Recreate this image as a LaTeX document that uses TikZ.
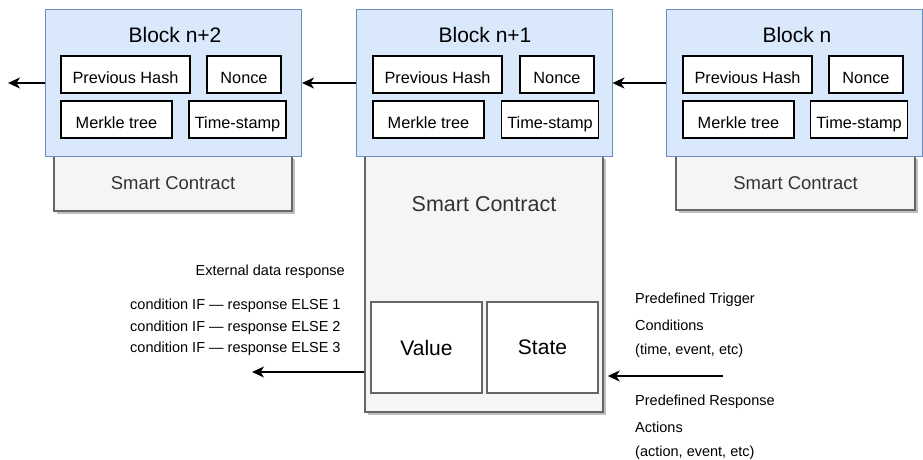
\documentclass[tikz,border=0pt]{standalone}
\usepackage{fontspec}
\setmainfont{Liberation Sans}
\usetikzlibrary{arrows.meta,shadows}
\definecolor{blockfill}{HTML}{DAE8FC}
\definecolor{blockline}{HTML}{6C8EBF}
\definecolor{contractfill}{HTML}{F5F5F5}
\definecolor{contractline}{HTML}{666666}
\definecolor{contracttext}{HTML}{333333}
\tikzstyle{block} = [draw=blockline, fill=blockfill, line width=1pt, minimum width=256pt, minimum height=146pt, inner sep=0pt]
\tikzstyle{title} = [inner sep=0pt, font={\fontsize{21}{25}\selectfont}]
\tikzstyle{field} = [draw=black, fill=white, line width=1.5pt, minimum height=37pt, inner sep=0pt, text height=18pt, text depth=0pt, font={\fontsize{16.3}{19}\selectfont}]
\tikzstyle{contract} = [draw=contractline, fill=contractfill, line width=1.5pt, inner sep=0pt, text=contracttext, font={\fontsize{18.5}{22}\selectfont}, drop shadow={shadow xshift=3pt, shadow yshift=-3pt, fill=black, opacity=0.25}]
\tikzstyle{slot} = [draw=contractline, fill=white, line width=1.2pt, minimum width=111pt, minimum height=91pt, inner sep=0pt, font={\fontsize{21}{25}\selectfont}]
\tikzstyle{note} = [inner sep=0pt, font={\fontsize{14.5}{17}\selectfont}]
\tikzstyle{link} = [line width=1.5pt, -{Stealth[length=12pt,width=11pt,inset=3.5pt]}]

\begin{document}
\begin{tikzpicture}[x=1pt,y=-1pt]
    \useasboundingbox (0,0) rectangle (923,460);
    % smart contracts (behind the blocks)
    \node[contract,minimum width=238pt,minimum height=55pt](c2) at (173,183.5){Smart Contract};
    \node[contract,minimum width=238pt,minimum height=256pt](c1) at (484,284){};
    \node[contract,minimum width=239pt,minimum height=54pt](c0) at (795.5,183){Smart Contract};
    \node[note,text=contracttext,font={\fontsize{21.5}{25}\selectfont}](c1label) at (484,204){Smart Contract};
    \node[slot](value) at (426.5,347.5){Value};
    \node[slot](state) at (542.5,347.5){State};
    % block n+2
    \node[block](b2) at (173.5,83){};
    \node[title](b2title) at (175,35){Block n+2};
    \node[field,minimum width=129pt](b2hash) at (125.5,74.5){Previous Hash};
    \node[field,minimum width=74pt](b2nonce) at (244,74.5){Nonce};
    \node[field,minimum width=111pt](b2tree) at (116.5,119.5){Merkle tree};
    \node[field,minimum width=97pt](b2time) at (237.5,119.5){Time-stamp};
    % block n+1
    \node[block](b1) at (484,83){};
    \node[title](b1title) at (485,35){Block n+1};
    \node[field,minimum width=129pt](b1hash) at (437.5,74.5){Previous Hash};
    \node[field,minimum width=74pt](b1nonce) at (557,74.5){Nonce};
    \node[field,minimum width=111pt](b1tree) at (428.5,119.5){Merkle tree};
    \node[field,minimum width=97pt](b1time) at (550,119.5){Time-stamp};
    % block n
    \node[block](b0) at (794.5,83){};
    \node[title](b0title) at (797,35){Block n};
    \node[field,minimum width=129pt](b0hash) at (747.5,74.5){Previous Hash};
    \node[field,minimum width=74pt](b0nonce) at (866,74.5){Nonce};
    \node[field,minimum width=111pt](b0tree) at (738.5,119.5){Merkle tree};
    \node[field,minimum width=97pt](b0time) at (859,119.5){Time-stamp};
    % chain
    \coordinate(chainend) at (8,83);
    \draw[link](b0)--(b1);
    \draw[link](b1)--(b2);
    \draw[link](b2)--(chainend);
    % contract in and out
    \coordinate(respend) at (252,372);
    \coordinate(trigstart) at (723,376);
    \draw[link](c1.west |- respend)--(respend);
    \draw[link](trigstart)--([xshift=4pt]trigstart -| c1.east);
    % texts
    \node[note,anchor=east](ext) at (345,272){External data response};
    \node[note,anchor=west](cond1) at (130,306){condition IF — response ELSE 1};
    \node[note,anchor=west](cond2) at (130,327.5){condition IF — response ELSE 2};
    \node[note,anchor=west](cond3) at (130,349){condition IF — response ELSE 3};
    \node[note,anchor=west](trig1) at (635,300){Predefined Trigger};
    \node[note,anchor=west](trig2) at (635,325.5){Conditions};
    \node[note,anchor=west](trig3) at (635,351){(time, event, etc)};
    \node[note,anchor=west](act1) at (635,402){Predefined Response};
    \node[note,anchor=west](act2) at (635,427.5){Actions};
    \node[note,anchor=west](act3) at (635,453){(action, event, etc)};
  \end{tikzpicture}
\end{document}
